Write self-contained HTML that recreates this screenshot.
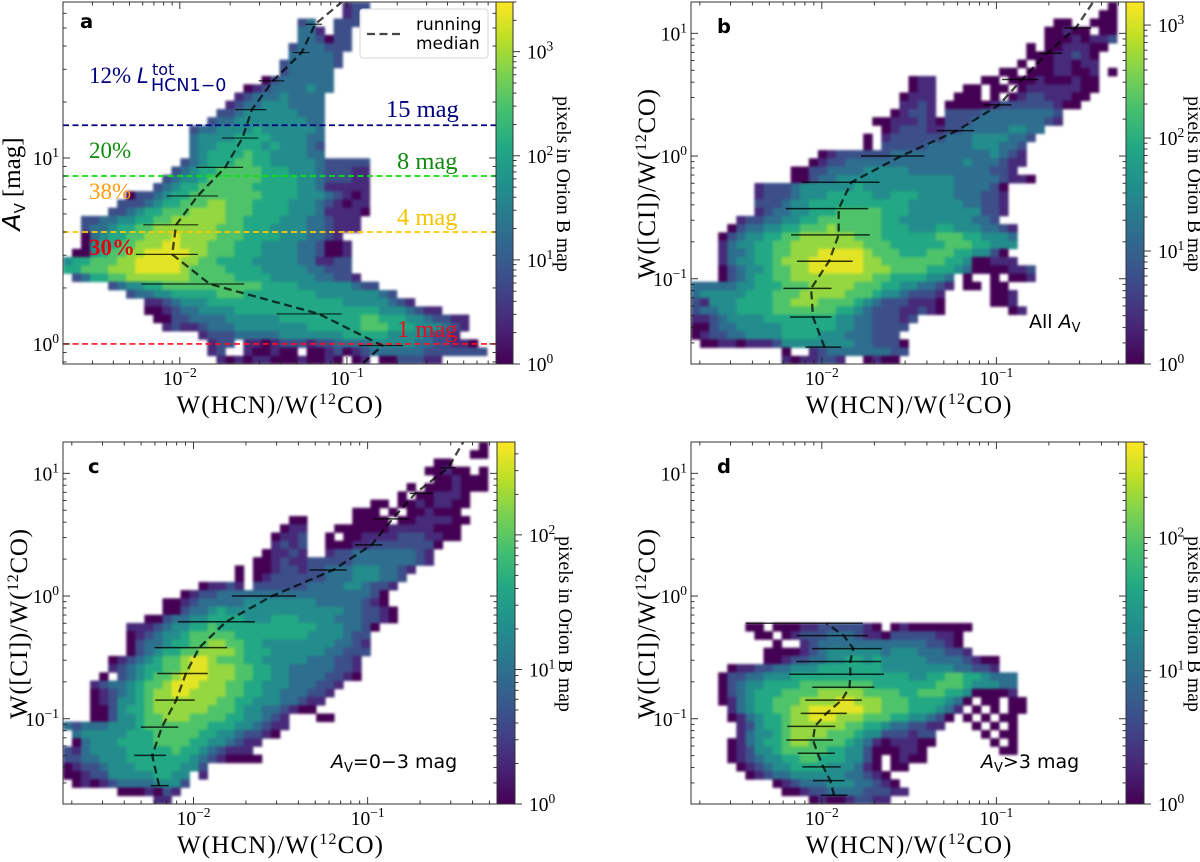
<!DOCTYPE html>
<html lang="en">
<head>
<meta charset="utf-8">
<title>HCN ratio histograms</title>
<style>
html,body{margin:0;padding:0;background:#fff;}
svg{display:block;}
.serif{font-family:"Liberation Serif",serif;}
.sans{font-family:"DejaVu Sans",sans-serif;}
</style>
</head>
<body>
<svg id="figure" xmlns="http://www.w3.org/2000/svg" width="1200" height="862" viewBox="0 0 1200 862"></svg>
<script>
/* ---------- Panel a: bins (log-count level 1-9, 0 = empty) ---------- */
const aStart=[31,31,26,26,26,25,25,24,24,22,20,19,18,17,16,14,14,14,14,13,12,11,10,7,6,5,2,2,2,2,1,0,0,1,5,7,9,9,10,11,15,16,16,16];
const aLevels=[
[2,3,3],[2,3],[3,4,0,0,3,3,3],[4,4,2,0,3,3],[4,4,3,1,3,3],[3,4,4,4,3,3,3],[4,4,4,4,4,3],[3,4,4,4,4,4,3],[3,4,4,4,4,4],
[1,3,4,4,4,4,4,4],[1,2,3,4,4,4,4,5,4,4],[2,3,4,4,4,5,4,4,4,4],[2,3,4,4,5,5,5,4,4,4,4],[3,3,4,5,5,5,5,5,5,4,4,4],
[3,4,4,5,5,5,5,5,5,5,5,4,4],[3,4,4,5,5,5,5,6,5,5,5,5,5,5,4],[4,5,5,5,5,6,6,6,6,5,5,5,5,4,4],[4,5,5,6,6,6,6,6,5,6,5,5,5,4,3],
[4,5,6,6,6,6,7,6,6,5,5,5,5,4,4],[3,4,5,6,6,6,7,7,6,6,5,5,5,5,5,4,3,3,3,3,3],[3,4,5,6,6,7,7,7,7,7,6,6,6,5,5,5,4,3,3,3,2,2],
[3,4,5,5,6,7,7,7,7,7,7,6,6,6,6,5,5,4,3,3,3,2,2],[3,4,5,6,6,7,7,7,7,7,7,6,6,6,6,6,5,5,4,2,2,2,2,2],
[1,3,3,4,5,6,6,7,7,7,7,7,7,7,7,6,6,6,6,5,5,5,4,3,2,1,2],[3,3,3,4,5,6,6,7,7,7,8,8,7,7,7,6,6,6,6,5,5,5,4,3,2,1,2,2],
[3,3,4,5,6,6,7,7,7,8,8,8,8,7,7,7,6,6,6,6,5,5,5,4,2,2,2,2,1],[3,3,4,4,5,5,6,6,7,7,8,8,8,8,8,8,7,7,6,6,6,6,5,5,5,4,4,3,2,2,2],
[3,4,4,5,6,6,7,7,8,8,8,8,8,8,8,7,7,7,6,6,6,5,5,5,5,4,4,3,2,2,2],[1,4,5,6,6,7,7,8,8,8,9,8,8,8,8,7,7,7,6,6,6,6,5,5,5,4,4,3,2,0],
[1,5,6,6,7,7,8,8,8,9,9,8,8,8,7,7,7,6,6,6,5,5,5,5,4,4,3,1,1,2],[1,1,5,6,7,7,8,8,9,9,9,9,9,8,8,7,7,7,6,6,6,5,5,5,5,4,4,3,1,1,2],
[5,6,6,7,7,7,8,8,9,9,9,9,9,8,8,7,7,6,6,6,6,5,5,5,5,5,4,4,2,2,3,3],[6,6,7,7,7,8,8,8,9,9,9,9,9,8,7,7,7,7,6,6,6,6,5,5,5,5,5,4,4,3,3,3],
[3,4,6,6,7,7,8,8,8,8,8,8,8,7,7,7,7,7,6,6,6,6,5,5,5,5,5,4,4,3,3,2],[3,4,5,5,6,6,7,7,7,7,7,7,7,7,7,7,7,6,6,6,6,5,5,5,5,5,5,4,3,3],
[3,4,4,5,5,6,6,6,6,6,7,7,7,6,6,6,6,6,6,6,6,5,5,5,5,5,5,5,4,3],[2,2,3,4,5,5,5,6,6,6,6,6,6,6,6,6,6,6,6,6,6,6,5,5,5,5,5,4,3,2],
[1,1,2,3,4,4,5,5,5,5,6,6,6,6,6,6,6,6,6,6,6,6,6,6,6,6,5,5,5,4,3,2,2],[1,1,3,3,4,4,4,4,5,5,5,5,5,5,6,6,6,6,6,6,6,6,6,7,7,6,6,6,5,5,4,3,3,2,2],
[2,3,2,2,3,4,4,4,5,5,5,5,5,5,5,5,6,6,6,6,6,6,7,7,7,6,6,6,5,5,5,4,3,2],[2,3,3,3,4,4,4,4,4,5,5,5,5,5,5,5,6,6,6,6,6,5,5,5,5,4,3,3,2,0,0],
[2,3,3,0,2,2,1,2,3,3,3,2,3,3,4,4,4,4,5,5,5,5,5,4,4,3,3,2,2,1],[2,3,0,0,2,1,1,2,1,1,0,1,1,2,3,1,2,3,4,4,4,4,4,4,3,3,3,3,3,3,3],
[0,2,1,2,1,2,2,1,1,1,2,1,1,2,1,0,1,2,0,1,1,3,3,3,2,2]
];
/* ---------- Panel b ---------- */
const bStart=[46,45,40,39,39,37,37,36,34,24,24,23,23,22,20,21,19,19,14,13,11,11,7,7,7,7,5,4,3,3,3,3,3,3,0,0,0,0,0,0,0,0,10,10];
const bLevels=[
[1],[1,1],[1,1,0,0,1,1,1],[1,1,2,1,1,0,1,1],[1,1,1,2,1,2,2,3],[1,0,1,1,2,2,2,1,1],[1,1,1,2,2,3,2,1],[1,0,1,1,2,2,1,2,2],
[1,1,0,1,1,1,2,2,1,1,2,0,1],[1,2,2,0,0,0,0,0,1,1,0,1,1,1,2,1,1,1,2,1,1],[1,2,2,0,0,0,1,1,0,1,1,0,1,2,2,2,2,2,2,1,1],
[1,2,2,2,0,0,1,1,1,0,1,0,1,2,3,3,2,2,2,1,1],[2,2,3,2,0,1,1,1,1,1,2,3,3,3,3,3,3,2,1,1],[1,2,3,3,2,0,3,3,3,3,4,4,4,4,4,4,4,4,3],
[1,1,2,2,2,3,2,1,3,3,3,4,4,4,4,4,4,4,4,3,2],[1,2,3,3,3,2,2,3,3,4,4,4,4,4,5,5,4,4],[1,0,2,3,3,3,3,3,3,4,4,4,5,5,5,5,4,4,3],
[1,0,3,3,3,3,3,4,4,4,4,4,5,5,5,4,4,3],[1,2,3,3,3,3,3,3,4,4,4,4,4,4,4,4,4,4,4,5,4,3,2],[1,2,3,3,4,4,4,4,4,4,4,4,4,4,4,4,4,5,4,4,4,3,2,2],
[1,1,3,3,4,4,4,4,5,5,5,5,5,4,4,4,4,4,4,4,4,4,3,3,2,0],[1,1,3,4,4,5,5,5,5,5,5,5,5,5,5,5,5,5,4,4,4,4,4,3,2,2,1],
[2,3,3,3,4,5,5,5,5,5,5,6,5,5,5,5,5,5,5,5,5,5,4,4,4,4,3,1],[2,3,3,3,4,5,5,5,6,6,6,6,6,5,5,6,6,6,5,5,5,5,4,4,4,3,3,2],
[3,3,3,4,5,5,6,6,6,6,6,6,6,6,6,6,6,5,5,5,5,5,5,4,4,3,3,2],[2,3,4,4,5,5,6,6,6,7,7,7,7,7,6,6,6,5,5,5,5,5,5,5,5,3,3,2],
[2,3,3,4,4,5,5,6,6,7,7,7,7,7,7,7,6,6,5,5,5,5,5,5,5,5,4,4,3],[1,3,4,4,5,5,6,6,7,7,7,8,7,7,7,7,7,6,6,6,5,5,5,6,6,5,5,5,4,4,3,2],
[1,3,4,5,5,6,6,7,7,8,8,8,8,8,8,7,7,7,6,6,6,6,6,6,7,7,7,6,6,5,5,5,4],[2,4,5,5,6,6,7,7,8,8,8,8,8,8,8,8,7,7,7,6,6,6,6,6,6,7,7,7,6,6,5,5,5],
[2,4,4,5,6,6,7,7,8,8,8,9,9,9,9,9,8,7,7,7,6,6,6,7,7,7,6,6,5,5,3,1],[2,4,5,5,6,6,7,8,8,8,9,9,9,9,9,9,8,8,7,7,7,7,7,7,7,6,6,5,1,1,2,2,2],
[1,3,4,5,5,6,7,7,8,8,9,9,9,9,9,9,8,8,8,7,7,7,7,6,6,6,5,4,1,1,1,1,2,2,3],[1,3,4,5,6,6,7,7,8,8,8,8,8,8,8,8,8,7,7,6,6,6,6,5,5,4,0,1,0,0,1,0,1,1,2],
[4,4,4,4,4,5,5,6,6,6,7,7,7,8,8,8,8,8,7,7,7,6,6,5,5,4,4,3,2,0,1,1,0,1,1],[4,5,5,5,5,5,6,6,6,7,7,7,8,8,8,8,8,7,7,7,6,5,5,4,3,3,3,2,0,0,0,0,0,1,1,2],
[3,2,5,5,5,6,6,6,6,7,7,8,8,8,7,7,7,7,6,5,4,3,3,3,2,2,2,1,0,0,0,0,0,1,1,2],[3,4,4,5,5,6,6,6,6,7,7,7,7,7,7,7,6,6,5,4,3,3,3,2,2,3,2,1,0,0,0,0,0,0,0,1,2],
[2,2,3,4,5,5,5,5,6,6,6,6,6,6,6,6,5,5,4,4,3,3,3,2,3],[1,1,3,4,4,5,5,5,5,5,6,6,6,6,6,6,5,5,4,4,3,3,3,3],[1,2,3,3,4,4,5,5,5,5,6,6,6,6,5,5,5,4,4,4,3,3,3],
[0,1,1,2,2,1,2,2,2,3,5,5,5,5,5,5,5,5,4,4,3,3,3,1],[1,0,0,2,3,4,4,4,4,4,4,4,3,3],[2,1,2,2,3,3,2,0,0,1,2,1,1]
];
/* ---------- Panel c ---------- */
const cStart=[46,45,41,40,41,38,37,34,32,25,24,23,23,22,21,19,19,15,13,11,11,9,7,7,7,7,5,5,4,3,3,3,3,3,0,0,1,0,0,0,0,0,6,10];
const cLevels=[
[1],[1,1],[1,1],[1,1,2,1,1,0,1],[1,1,2,1,1,1],[1,0,1,1,1,2,1,1,1],[1,0,1,1,2,2,2,1],[1,1,0,1,1,2,1,2,2,1,1],[1,1,1,0,1,0,1,1,2,1,1,1],
[1,1,0,0,0,0,0,1,1,1,1,0,1,1,2,2,2,2,1,1],[1,2,2,0,0,0,1,1,1,1,1,1,2,2,2,2,2,1,1,1],[1,2,2,3,0,0,1,0,1,1,2,2,2,2,3,3,3,2,2,1,1],
[2,3,2,3,0,0,1,1,1,2,2,3,3,3,3,3,3,3,1],[1,2,2,3,2,0,0,2,3,3,4,4,4,4,4,4,4,3,2],[1,1,2,3,2,2,3,3,3,3,3,4,4,4,4,4,4,4,3,2],
[1,0,1,1,2,3,3,2,3,3,4,4,4,5,5,5,4,4,3,2],[1,0,1,2,3,3,3,3,3,3,4,4,4,5,5,5,4,4,3],[1,2,2,3,2,0,3,3,3,3,3,3,4,4,4,4,5,5,4,3,3,2],
[1,2,3,3,4,4,4,4,4,4,4,4,4,4,4,4,4,4,4,4,4,3,1],[1,1,2,3,4,4,4,4,4,5,5,5,5,5,5,5,5,4,4,4,4,4,3,2,1],[1,1,3,4,4,5,6,5,5,5,5,5,5,5,5,5,5,5,5,5,4,4,3,3,2,1],
[1,1,3,4,4,5,5,6,6,6,6,5,5,5,6,6,6,5,5,5,5,4,4,4,3,3,2,1],[2,2,2,3,4,5,5,6,6,7,6,6,6,6,6,6,6,6,6,6,6,5,5,5,4,4,3,1],
[1,2,3,4,5,5,6,7,7,7,7,7,6,6,6,6,6,6,6,6,5,5,5,5,4,3,3],[1,3,4,4,5,6,6,7,7,8,8,7,7,6,6,5,5,5,5,5,5,5,5,4,4,3,2],
[1,3,4,5,6,6,7,7,8,8,8,8,7,6,6,6,5,5,5,5,5,5,4,4,3,3,3],[1,2,3,4,5,6,7,7,8,9,9,8,7,7,7,6,6,5,5,5,5,5,4,4,4,3,3,2],
[2,3,4,5,6,6,7,7,8,9,9,8,8,8,7,7,6,6,5,5,4,4,4,4,4,3,3,2],[1,0,3,4,5,6,7,7,8,9,9,9,8,8,8,7,7,6,6,5,5,4,4,4,4,3,3,2,1],
[2,3,4,4,5,6,7,7,8,9,9,9,8,8,8,7,7,6,6,5,5,5,4,4,4,3,3,2],[1,2,3,4,5,6,7,8,8,9,9,8,8,8,8,7,7,6,6,5,5,4,4,4,3,3,2],
[1,2,3,5,5,6,7,8,8,8,8,8,8,8,7,7,6,6,5,5,5,4,4,3,2,2],[1,1,3,5,6,6,7,8,8,8,8,8,8,7,7,7,6,5,5,4,4,3,2,1,1],
[1,1,3,5,5,6,7,7,8,8,8,7,7,7,7,6,6,5,5,4,3,2,0,0,0,1,1],[4,3,4,4,4,5,5,5,6,7,7,7,7,7,7,7,6,6,6,5,5,4,3,2,2],
[0,4,5,5,5,5,5,6,6,6,7,7,7,7,7,6,6,5,5,4,3,3,2,1],[1,4,5,5,5,6,6,6,6,7,7,7,7,6,6,5,5,4,3,2,2],[3,2,4,5,5,5,5,6,6,6,6,6,7,6,6,5,4,3,2,2,2],
[3,3,4,4,5,5,5,6,6,6,6,6,6,6,5,4,3,2,1,1,1,1],[1,2,3,3,4,5,5,5,6,6,6,6,6,5,5,3],[1,1,2,3,3,5,5,5,5,5,6,6,5,5,0,2],[0,1,2,1,2,3,4,4,4,4,5,5,5,3],
[1,1,1,2,1,3,2],[2,2]
];
/* ---------- Panel d (rows 0-21 are empty) ---------- */
const dStart=[0,0,0,0,0,0,0,0,0,0,0,0,0,0,0,0,0,0,0,0,0,0,6,7,7,8,8,4,3,3,3,3,4,4,5,5,4,4,4,5,6,9,10,13];
const dLevels=[
[],[],[],[],[],[],[],[],[],[],[],[],[],[],[],[],[],[],[],[],[],[],
[1,1,0,1,1,1,2,2,3,3,3,3,3,2,1,0,1,2,1,1,1,1,1,1,1],[1,1,0,1,2,3,3,3,4,4,4,3,2,2,1,3,3,3,3,3,2,2,1],[0,0,1,0,0,2,3,4,4,4,4,4,4,4,4,4,4,4,4,3,3,2,1],
[1,1,1,1,2,3,4,5,5,5,5,5,5,4,5,5,5,4,4,4,3,3,2],[1,1,2,3,3,4,4,5,5,6,6,5,6,5,5,5,5,5,4,4,4,4,3,2,1,1],[1,2,2,3,3,4,4,5,5,5,6,6,6,6,6,6,6,5,5,5,5,5,5,5,5,4,4,3,3,2],
[1,3,3,4,4,5,5,5,6,6,6,6,6,6,6,6,6,6,6,6,6,5,5,6,6,7,7,6,6,5,4,4,4],[1,3,4,5,5,6,6,6,6,7,7,7,7,7,7,7,7,6,6,6,6,6,6,6,7,7,7,6,5,5,5,4,4],
[1,3,4,5,6,6,6,7,7,7,7,8,8,8,8,8,7,7,7,7,6,6,7,7,7,6,6,5,1,1,1,1,2],[1,2,4,5,6,6,7,7,7,8,8,8,8,9,9,8,8,8,7,7,7,6,6,6,6,5,4,1,0,1,1,0,1,1],
[2,4,5,6,6,7,7,8,8,9,9,9,9,9,9,8,8,7,7,7,6,6,6,5,4,2,0,1,0,1,0,1,1],[1,2,4,5,6,6,7,8,8,9,9,9,8,8,8,7,7,7,6,6,5,5,4,3,1,0,1,0,1,0,1,1],
[2,3,5,6,6,7,8,8,8,8,8,8,7,7,6,6,5,4,4,3,3,2,2,0,0,0,1,0,1,0,1],[2,4,5,5,6,7,8,8,8,8,7,7,7,6,5,5,3,3,3,2,3,3,0,0,0,0,0,1,0,1,1],
[1,2,4,5,6,6,7,8,8,7,7,7,7,6,5,4,2,1,2,2,2,1,1,0,0,0,0,0,0,1,0,1],[1,2,3,5,5,6,7,7,7,7,7,6,6,5,5,3,1,1,1,2,2,1,0,0,0,0,0,0,0,0,1,1],
[1,2,3,4,5,5,6,6,7,7,6,6,6,5,5,3,1,0,1,2,1,1],[1,2,3,4,5,5,6,6,6,6,5,5,5,4,2,1,0,1,1],[1,2,3,4,4,5,5,5,5,5,5,4,4,3,2,1],[1,2,3,4,4,4,5,5,5,4,4,3,2,1],
[1,1,2,3,3,4,4,4,4,3,3,3,2,2],[1,2,1,1,2,3,3,2,2]
];
/* ---------- Running medians and their bar ends (data values) ---------- */
const aMedianX=[0.125,0.163,0.068,0.0151,0.0090,0.0095,0.0128,0.0187,0.0237,0.027,0.0361,0.0536,0.0646,0.0933];
const aMedianY=[0.79,0.98,1.45,2.1,3.03,4.37,6.25,8.9,12.8,18.2,26,36.9,52.4,69];
const aBarLo=[null,0.118,0.038,0.0059,0.00545,0.00605,0.00836,0.01256,0.0179,0.0215,0.0296,0.0475,0.0565,null];
const aBarHi=[null,0.217,0.093,0.0243,0.0128,0.0129,0.0169,0.0239,0.0295,0.033,0.0423,0.0596,0.071,null];
const bMedianX=[0.01036,0.0089,0.00868,0.01101,0.0125,0.0125,0.01476,0.0285,0.0594,0.1035,0.14,0.195,0.285,0.358];
const bMedianY=[0.0277,0.0488,0.0834,0.139,0.228,0.373,0.611,1.0,1.61,2.61,4.2,6.88,11.05,17.9];
const bBarLo=[0.00804,0.00658,0.00603,0.0072,0.00667,0.00621,0.00765,0.01675,0.0456,0.0845,0.108,0.176,0.245,null];
const bBarHi=[0.0129,0.01135,0.01135,0.015,0.0188,0.01845,0.0214,0.0386,0.0746,0.122,0.174,0.239,0.349,null];
const cMedianX=[0.00634,0.00579,0.00658,0.00796,0.00904,0.01079,0.01538,0.02825,0.0634,0.1052,0.139,0.188,0.29,0.354];
const cMedianY=[0.0285,0.0503,0.0855,0.142,0.234,0.38,0.618,1.0,1.63,2.61,4.25,6.87,11.1,18];
const cBarLo=[0.00567,0.00456,0.00498,0.00603,0.00618,0.00597,0.00817,0.0166,0.0463,0.0846,0.108,0.1745,0.262,null];
const cBarHi=[0.0072,0.00695,0.00817,0.01016,0.01206,0.0156,0.0225,0.0388,0.0757,0.1213,0.1725,0.2366,0.32,null];
const dMedianX=[0.01175,0.01118,0.0102,0.00946,0.0089,0.00913,0.01062,0.013,0.0144,0.01456,0.01456,0.01514,0.01334,0.01062];
const dMedianY=[0.0238,0.0313,0.0405,0.0523,0.0671,0.0867,0.1105,0.1418,0.1808,0.2307,0.2925,0.373,0.476,0.6];
const dBarLo=[0.00985,0.0089,0.00773,0.00727,0.00625,0.00634,0.00757,0.00804,0.00881,0.0065,0.00716,0.00881,0.0072,0.00367];
const dBarHi=[0.01403,0.0135,0.01282,0.01188,0.0116,0.01194,0.0139,0.01694,0.02,0.0227,0.0219,0.0221,0.01836,0.01718];
/* ---------- Axis limits and ticks ---------- */
const aXLim=[0.002,0.78];
const aYLim=[0.78,69];
const wideXLim=[0.00178,0.553];
const wideYLim=[0.0202,18];
const xTickValues=[0.01,0.1];
const xTickExponents=["\u22122","\u22121"];
const aYTickValues=[1,10];
const aYTickExponents=["0","1"];
const wideYTickValues=[0.1,1,10];
const wideYTickExponents=["\u22121","0","1"];
const aColorMax=3000;
const bColorMax=1600;
const cColorMax=490;
const dColorMax=520;
const aColorTicks=[1,10,100,1000];
const bColorTicks=[1,10,100,1000];
const cColorTicks=[1,10,100];
const dColorTicks=[1,10,100];
const thresholdMags=[15,8,4,1];
const thresholdColors=["#000080","#10e010","#ffc800","#ff1020"];
const viridisStops=["#440154","#482475","#414487","#355f8d","#2a788e","#21918c","#22a884","#44bf70","#7ad151","#bddf26","#fde725"];

const NS="http://www.w3.org/2000/svg";
const fig=document.getElementById("figure");
function mk(parent,tag,attrs){
  const e=document.createElementNS(NS,tag);
  for(const k in attrs)e.setAttribute(k,attrs[k]);
  parent.appendChild(e);
  return e;
}
/* slight softening so the histogram cells read like the reference's smooth bins */
const defs=mk(fig,"defs",{});
const soft=mk(defs,"filter",{id:"soft",filterUnits:"userSpaceOnUse",x:0,y:0,width:1200,height:862,"color-interpolation-filters":"sRGB"});
mk(soft,"feGaussianBlur",{stdDeviation:1.2});
function hexRgb(h){return [1,3,5].map(i=>parseInt(h.substr(i,2),16));}
function viridis(t){
  t=Math.max(0,Math.min(1,t))*(viridisStops.length-1);
  const i=Math.min(viridisStops.length-2,Math.floor(t));
  const f=t-i,a=hexRgb(viridisStops[i]),b=hexRgb(viridisStops[i+1]);
  return "rgb("+a.map((v,k)=>Math.round(v+(b[k]-v)*f)).join(",")+")";
}
function logScale(lim,p0,p1){
  const l0=Math.log10(lim[0]),l1=Math.log10(lim[1]);
  return v=>p0+(Math.log10(v)-l0)/(l1-l0)*(p1-p0);
}
function decadeLabel(parent,x,y,anchor,exp,name){
  const t=mk(parent,"text",{x:x,y:y,"text-anchor":anchor,"class":"serif","font-size":19.5,fill:"#000"});
  
  
  t.appendChild(document.createTextNode("10"));
  const s=mk(t,"tspan",{dy:-8,"font-size":13.5});
  s.textContent=exp;
  return t;
}
function minorValues(lim){
  const out=[];
  for(let d=Math.floor(Math.log10(lim[0]));d<=Math.ceil(Math.log10(lim[1]));d++){
    for(let m=1;m<10;m++){
      const v=m*Math.pow(10,d);
      if(v>=lim[0]&&v<=lim[1])out.push({v:v,major:m===1});
    }
  }
  return out;
}
function tickLine(parent,x1,y1,x2,y2,name){
  const l=mk(parent,"line",{x1:x1,y1:y1,x2:x2,y2:y2,stroke:"#222","stroke-width":0.9});
  
  
}

function drawPanel(p){
  const g=mk(fig,"g",{});
  
  
  const X=logScale(p.xLim,p.left,p.right),Y=logScale(p.yLim,p.bottom,p.top);
  const clip=mk(g,"clipPath",{id:"clip-"+p.id});
  mk(clip,"rect",{x:p.left,y:p.top,width:p.right-p.left,height:p.bottom-p.top});
  const plot=mk(g,"g",{"clip-path":"url(#clip-"+p.id+")"});
  
  
  /* heatmap: bin edges are equal steps in log space */
  const nx=48,ny=44;
  const lx0=Math.log10(p.xLim[0]),lx1=Math.log10(p.xLim[1]),ly0=Math.log10(p.yLim[1]),ly1=Math.log10(p.yLim[0]);
  const heat=mk(plot,"g",{filter:"url(#soft)"});
  
  
  p.levels.forEach((row,r)=>{
    row.forEach((lev,k)=>{
      if(!lev)return;
      const c=p.start[r]+k;
      const xa=X(Math.pow(10,lx0+(lx1-lx0)*c/nx)),xb=X(Math.pow(10,lx0+(lx1-lx0)*(c+1)/nx));
      const ya=Y(Math.pow(10,ly0+(ly1-ly0)*r/ny)),yb=Y(Math.pow(10,ly0+(ly1-ly0)*(r+1)/ny));
      const cell=mk(heat,"rect",{x:xa.toFixed(1),y:ya.toFixed(1),width:(xb-xa+0.4).toFixed(1),height:(yb-ya+0.4).toFixed(1),fill:viridis((lev-1)/8*0.96)});
      
      
    });
  });
  if(p.thresholds){
    p.thresholds.forEach((m,i)=>{
      const l=mk(plot,"line",{x1:p.left,x2:p.right,y1:Y(m),y2:Y(m),stroke:thresholdColors[i],"stroke-width":1.7,"stroke-dasharray":"6,3.5"});
      
      
    });
  }
  /* median and bars */
  const pts=p.mx.map((v,i)=>X(v).toFixed(1)+","+Y(p.my[i]).toFixed(1)).join(" ");
  const med=mk(plot,"polyline",{points:pts,fill:"none",stroke:"rgba(0,0,0,.72)","stroke-width":2.3,"stroke-dasharray":"8,4.5"});
  
  
  p.mx.forEach((v,i)=>{
    if(p.lo[i]===null)return;
    const b=mk(plot,"line",{x1:X(p.lo[i]),x2:X(p.hi[i]),y1:Y(p.my[i]),y2:Y(p.my[i]),stroke:"rgba(0,0,0,.78)","stroke-width":p.barW});
    
    
  });
  /* frame */
  const frame=mk(g,"rect",{x:p.left,y:p.top,width:p.right-p.left,height:p.bottom-p.top,fill:"none",stroke:"#333","stroke-width":1});
  
  
  /* ticks */
  minorValues(p.xLim).forEach(o=>{
    const len=o.major?7:3.5,x=X(o.v);
    tickLine(g,x,p.bottom,x,p.bottom-len,'x-tick');
    tickLine(g,x,p.top,x,p.top+len,'x-tick-top');
  });
  minorValues(p.yLim).forEach(o=>{
    const len=o.major?7:3.5,y=Y(o.v);
    tickLine(g,p.left,y,p.left+len,y,'y-tick');
    tickLine(g,p.right,y,p.right-len,y,'y-tick-right');
  });
  xTickValues.forEach((v,i)=>decadeLabel(g,X(v),p.bottom+21,"middle",xTickExponents[i],'x-tick-label'));
  p.yTicks.forEach((v,i)=>decadeLabel(g,p.left-4,Y(v)+7,"end",p.yExps[i],'y-tick-label'));
  /* colour bar */
  const gr=mk(g,"linearGradient",{id:"grad-"+p.id,x1:0,y1:1,x2:0,y2:0});
  viridisStops.forEach((c,i)=>mk(gr,"stop",{offset:i/(viridisStops.length-1),"stop-color":c}));
  const C=logScale([1,p.cMax],p.bottom,p.top);
  const bar=mk(g,"rect",{x:p.right,y:p.top,width:p.cbW,height:p.bottom-p.top,fill:"url(#grad-"+p.id+")",stroke:"#333","stroke-width":1});
  
  
  minorValues([1,p.cMax]).forEach(o=>{
    const y=C(o.v);
    tickLine(g,p.right+p.cbW,y,p.right+p.cbW+(o.major?7:3.5),y,'colorbar-tick');
  });
  p.cTicks.forEach(v=>decadeLabel(g,p.right+p.cbW+14,C(v)+7,"start",String(Math.round(Math.log10(v))),'colorbar-tick-label'));
  const cy=(p.top+p.bottom)/2+1,cx=p.right+p.cbW+44;
  const cl=mk(g,"text",{x:cx,y:cy,"text-anchor":"middle","class":"serif","font-size":19.8,transform:"rotate(90 "+cx+" "+cy+")"});
  
  
  cl.textContent="pixels in Orion B map";
  /* x label */
  const xl=mk(g,"text",{x:(p.left+p.right)/2,y:p.bottom+49,"text-anchor":"middle","class":"serif","font-size":25,textLength:206,lengthAdjust:"spacing"});
  
  
  xl.appendChild(document.createTextNode("W(HCN)/W("));
  const s1=mk(xl,"tspan",{dy:-9,"font-size":16});
  s1.textContent="12";
  const s2=mk(xl,"tspan",{dy:9});
  s2.textContent="CO)";
  /* y label */
  const yy=(p.top+p.bottom)/2+1,yx=p.id==="a"?p.left-43:p.left-36;
  const yl=mk(g,"text",{x:yx,y:yy,"text-anchor":"middle","font-size":25,"class":"serif",transform:"rotate(-90 "+yx+" "+yy+")"});
  
  
  if(p.id==="a"){
    const a=mk(yl,"tspan",{"class":"sans","font-style":"italic"});
    a.textContent="A";
    const v=mk(yl,"tspan",{"class":"sans",dy:5,"font-size":15});
    v.textContent="V";
    const m=mk(yl,"tspan",{dy:-5,dx:6});
    m.textContent="[mag]";
  }else{
    yl.setAttribute("textLength",190);
    yl.setAttribute("lengthAdjust","spacing");
    yl.appendChild(document.createTextNode("W([CI])/W("));
    const y1=mk(yl,"tspan",{dy:-9,"font-size":16});
    y1.textContent="12";
    const y2=mk(yl,"tspan",{dy:9});
    y2.textContent="CO)";
  }
  /* panel letter */
  const lt=mk(g,"text",{x:p.letterX,y:p.letterY,"class":"sans","font-size":19.5,"font-weight":"bold"});
  
  
  lt.textContent=p.id;
  /* Av annotation */
  if(p.note){
    const n=mk(g,"text",{x:p.note.x,y:p.note.y,"class":"sans","font-size":19});
    
    
    if(p.note.pre)n.appendChild(document.createTextNode(p.note.pre));
    const ai=mk(n,"tspan",{"font-style":"italic"});
    ai.textContent="A";
    const vs=mk(n,"tspan",{dy:4,"font-size":13});
    vs.textContent="V";
    if(p.note.post){
      const post=mk(n,"tspan",{dy:-4});
      post.textContent=p.note.post;
    }
  }
  return {X:X,Y:Y,g:g};
}
drawPanel({id:"b",left:691,right:1126,top:2,bottom:364,cbW:18,xLim:wideXLim,yLim:wideYLim,start:bStart,levels:bLevels,mx:bMedianX,my:bMedianY,lo:bBarLo,hi:bBarHi,barW:1.5,yTicks:wideYTickValues,yExps:wideYTickExponents,cMax:bColorMax,cTicks:bColorTicks,letterX:717,letterY:33,note:{x:1029,y:328,pre:"All "}});
drawPanel({id:"c",left:63,right:497,top:442,bottom:804,cbW:18,xLim:wideXLim,yLim:wideYLim,start:cStart,levels:cLevels,mx:cMedianX,my:cMedianY,lo:cBarLo,hi:cBarHi,barW:1.5,yTicks:wideYTickValues,yExps:wideYTickExponents,cMax:cColorMax,cTicks:cColorTicks,letterX:88,letterY:473,note:{x:331,y:768,post:"=0\u22123 mag"}});
drawPanel({id:"d",left:691,right:1126,top:442,bottom:804,cbW:18,xLim:wideXLim,yLim:wideYLim,start:dStart,levels:dLevels,mx:dMedianX,my:dMedianY,lo:dBarLo,hi:dBarHi,barW:1.5,yTicks:wideYTickValues,yExps:wideYTickExponents,cMax:dColorMax,cTicks:dColorTicks,letterX:717,letterY:473,note:{x:981,y:768,post:">3 mag"}});
const pa=drawPanel({id:"a",left:63,right:496,top:2,bottom:364,cbW:17,xLim:aXLim,yLim:aYLim,start:aStart,levels:aLevels,mx:aMedianX,my:aMedianY,lo:aBarLo,hi:aBarHi,barW:1.2,yTicks:aYTickValues,yExps:aYTickExponents,cMax:aColorMax,cTicks:aColorTicks,letterX:80,letterY:28,thresholds:thresholdMags});
/* Panel a annotations */
const aNotes=[
 ["15 mag",386,117,"#000080","annotation-15-mag",24.5,"normal"],
 ["8 mag",397,169,"#108a10","annotation-8-mag",24.5,"normal"],
 ["4 mag",397,225,"#f5c400","annotation-4-mag",24.5,"normal"],
 ["1 mag",397,337,"#e81020","annotation-1-mag",24.5,"normal"],
 ["12%",89,83,"#000080","percent-12",23,"normal"],
 ["20%",89,158,"#108a10","percent-20",23,"normal"],
 ["38%",89,199,"#ff9c10","percent-38",23,"normal"],
 ["30%",89,255,"#e80010","percent-30",23,"bold"]
];
aNotes.forEach(n=>{
  const t=mk(pa.g,"text",{x:n[1],y:n[2],fill:n[3],"class":"serif","font-size":n[5],"font-weight":n[6]});
  
  
  t.textContent=n[0];
});
const lumL=mk(pa.g,"text",{x:137,y:83,fill:"#000080","class":"sans","font-size":21,"font-style":"italic"});


lumL.textContent="L";
const lumT=mk(pa.g,"text",{x:152,y:75,fill:"#000080","class":"sans","font-size":16});


lumT.textContent="tot";
const lumS=mk(pa.g,"text",{x:151,y:91,fill:"#000080","class":"sans","font-size":17.5});


lumS.textContent="HCN1\u22120";
/* Legend */
const leg=mk(pa.g,"g",{});


const legBox=mk(leg,"rect",{x:360,y:9,width:128,height:49,rx:3,fill:"rgba(255,255,255,.85)",stroke:"#d6d6d6","stroke-width":1});


const legLine=mk(leg,"line",{x1:367,x2:401,y1:34,y2:34,stroke:"rgba(0,0,0,.72)","stroke-width":2.3,"stroke-dasharray":"8,4.5"});


const legT1=mk(leg,"text",{x:416,y:30,"class":"sans","font-size":17});


legT1.textContent="running";
const legT2=mk(leg,"text",{x:416,y:49,"class":"sans","font-size":17});


legT2.textContent="median";
</script>
</body>
</html>
